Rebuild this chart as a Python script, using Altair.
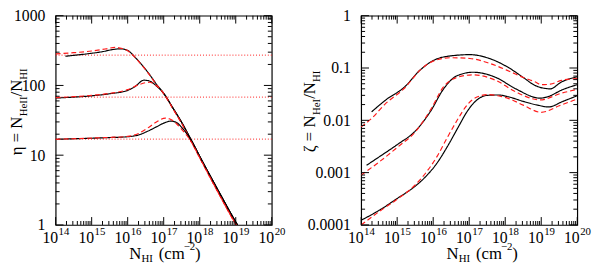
import altair as alt
import pandas as pd
import numpy as np

FONT = "Liberation Serif"
W, H = 220, 213
RED = "#ff1a1a"

# ---------------- left panel: eta = N_HeII / N_HI ----------------
L_top_black_x = [14.27, 14.5, 14.9, 15.3, 15.6, 15.8, 16.0, 16.2, 16.4, 16.6, 16.8, 17.0, 17.25, 17.5, 17.75, 18.0, 18.5, 19.0, 19.1]
L_top_black_y = [262, 270, 285, 305, 328, 335, 318, 255, 195, 145, 104, 77, 48, 29.5, 17, 9.6, 3.2, 1.1, 0.9]
L_top_red_x = [14.0, 14.5, 15.0, 15.4, 15.65, 15.85, 16.0, 16.2, 16.4, 16.6, 16.8, 17.0, 17.25, 17.5, 17.75, 18.0, 18.5, 19.0, 19.1]
L_top_red_y = [283, 295, 312, 335, 352, 338, 315, 254, 193, 143, 102, 76, 47, 28.5, 16.3, 9.2, 3.0, 1.03, 0.85]
L_mid_black_x = [14.0, 14.5, 15.0, 15.5, 16.0, 16.2, 16.45, 16.6, 16.8, 17.0, 17.25, 17.5, 17.75, 18.0, 18.5, 19.0, 19.1]
L_mid_black_y = [66, 68, 71, 76, 85, 96, 119, 116, 98, 77, 48, 29.5, 17, 9.6, 3.2, 1.1, 0.9]
L_mid_red_x = [14.0, 14.5, 15.0, 15.5, 16.0, 16.3, 16.6, 16.8, 17.0, 17.25, 17.5, 17.75, 18.0, 18.5, 19.0, 19.1]
L_mid_red_y = [67, 69, 72, 77, 87, 102, 111, 99, 77, 47, 28.5, 16.3, 9.2, 3.0, 1.03, 0.85]
L_bot_black_x = [14.0, 14.5, 15.0, 15.5, 16.0, 16.3, 16.55, 16.8, 17.0, 17.2, 17.35, 17.5, 17.65, 17.8, 18.0, 18.5, 19.0, 19.1]
L_bot_black_y = [16.9, 17.2, 17.5, 17.9, 18.4, 19.5, 22, 25.5, 28.8, 30.8, 29.5, 25, 20, 15.2, 9.6, 3.2, 1.1, 0.9]
L_bot_red_x = [14.0, 15.0, 15.5, 16.0, 16.3, 16.55, 16.8, 17.05, 17.2, 17.35, 17.5, 17.65, 17.8, 18.0, 18.5, 19.0, 19.1]
L_bot_red_y = [16.9, 17.6, 18.0, 18.6, 20.5, 24.4, 30, 34, 32.5, 28.5, 23.5, 19, 14.5, 9.2, 3.0, 1.03, 0.85]
ETA_LEVELS = [272, 68, 17]

# ---------------- right panel: zeta = N_HeI / N_HI ----------------
R_top_black_x = [14.29, 14.7, 15.2, 15.65, 16.02, 16.47, 17.02, 17.56, 18.11, 18.5, 18.84, 19.25, 19.56, 20.0]
R_top_black_y = [0.0145, 0.025, 0.043, 0.093, 0.141, 0.17, 0.18, 0.152, 0.1, 0.066, 0.046, 0.040, 0.054, 0.068]
R_top_red_x = [14.0, 14.3, 14.65, 15.2, 15.65, 16.02, 16.47, 17.02, 17.56, 18.11, 18.5, 18.84, 19.0, 19.25, 19.56, 20.0]
R_top_red_y = [0.0075, 0.011, 0.02, 0.041, 0.093, 0.137, 0.157, 0.152, 0.123, 0.087, 0.066, 0.054, 0.048, 0.049, 0.058, 0.063]
R_mid_black_x = [14.15, 14.5, 15.02, 15.5, 15.93, 16.29, 16.66, 17.11, 17.74, 18.29, 18.97, 19.2, 19.56, 20.0]
R_mid_black_y = [0.00138, 0.002, 0.0035, 0.0062, 0.015, 0.04, 0.071, 0.083, 0.066, 0.040, 0.0265, 0.0285, 0.0377, 0.048]
R_mid_red_x = [14.0, 14.5, 15.02, 15.5, 15.93, 16.29, 16.66, 17.11, 17.74, 18.29, 18.97, 19.56, 20.0]
R_mid_red_y = [0.0009, 0.0016, 0.0031, 0.006, 0.016, 0.044, 0.066, 0.074, 0.058, 0.035, 0.0245, 0.033, 0.039]
R_bot_black_x = [14.0, 14.5, 15.0, 15.5, 15.8, 16.1, 16.4, 16.7, 16.95, 17.2, 17.5, 17.8, 18.1, 18.5, 18.9, 19.2, 19.6, 20.0]
R_bot_black_y = [0.000123, 0.00019, 0.00032, 0.00055, 0.00085, 0.0015, 0.0032, 0.0075, 0.015, 0.024, 0.030, 0.0305, 0.028, 0.023, 0.0195, 0.018, 0.023, 0.0295]
R_bot_red_x = [14.0, 14.5, 15.0, 15.5, 15.8, 16.1, 16.4, 16.7, 16.95, 17.2, 17.5, 17.8, 18.1, 18.5, 19.0, 19.5, 20.0]
R_bot_red_y = [0.0001, 0.00018, 0.00031, 0.00058, 0.001, 0.002, 0.0048, 0.011, 0.02, 0.0275, 0.031, 0.0295, 0.026, 0.0195, 0.0142, 0.019, 0.0255]

# ---------------- axes ----------------
X_MAJOR = [14, 15, 16, 17, 18, 19, 20]
X_BASE = "10"
L_Y_MAJOR = [1, 10, 100, 1000]
L_Y_LABELS = ["1", "10", "100", "1000"]
R_Y_MAJOR = [0.0001, 0.001, 0.01, 0.1, 1]
R_Y_LABELS = ["0.0001", "0.001", "0.01", "0.1", "1"]


def y_label_expr(vals, labels):
    parts = [f"datum.value < {v * 3.0} ? '{t}'" for v, t in zip(vals, labels)]
    return " : ".join(parts) + " : ''"


def curves_df(curves):
    rows = []
    for name, model, xs, ys in curves:
        for x, y in zip(xs, ys):
            rows.append({"c": name, "model": model, "logN": x, "v": y})
    return pd.DataFrame(rows)


def text_layer(txt, x, y, size, angle=0):
    return alt.Chart(pd.DataFrame({"t": [txt]})).mark_text(
        font=FONT, fontSize=size, align="left", baseline="alphabetic",
        angle=angle, color="black"
    ).encode(x=alt.value(x), y=alt.value(y), text="t:N")


def panel(df, ydomain, ymajor, ylabels, hlines, ytitle, ytitle_x, ytitle_y0, xtitle_x0, anchor=False):
    xaxis = alt.Axis(values=X_MAJOR, labels=False, ticks=False, domain=False,
                     grid=False, title=None)
    yaxis = alt.Axis(values=ymajor, labelExpr=y_label_expr(ymajor, ylabels), ticks=False,
                     domain=False, grid=False, title=None, labelFont=FONT, labelFontSize=16,
                     labelPadding=11, labelColor="black", labelOverlap=False)
    xs = alt.Scale(domain=[14, 20], nice=False, zero=False)
    ys = alt.Scale(type="log", domain=ydomain, nice=False)

    def X():
        return alt.X("logN:Q", scale=xs, axis=xaxis)

    def Y():
        return alt.Y("v:Q", scale=ys, axis=yaxis)

    layers = []
    if anchor:
        # invisible layout anchor fixing the top-left extent of the figure
        layers.append(alt.Chart(pd.DataFrame({"a": [0]})).mark_rule(color="white", strokeWidth=1).encode(
            x=alt.value(-52), x2=alt.value(-51), y=alt.value(-12), y2=alt.value(-12)))
    if hlines:
        layers.append(alt.Chart(pd.DataFrame({"v": hlines})).mark_rule(
            color=RED, strokeDash=[1, 2], strokeWidth=1).encode(y=Y()))

    lines = alt.Chart(df).mark_line(clip=True, strokeWidth=1.2, interpolate="monotone").encode(
        x=X(), y=Y(), detail="c:N",
        color=alt.Color("model:N", scale=alt.Scale(domain=["solid", "dashed"], range=["black", RED]), legend=None),
        strokeDash=alt.StrokeDash("model:N", scale=alt.Scale(domain=["solid", "dashed"], range=[[1, 0], [5, 3]]), legend=None),
    )
    layers.append(lines)

    # inward ticks
    xmaj = pd.DataFrame({"logN": X_MAJOR})
    xmin = pd.DataFrame({"logN": [n + np.log10(k) for n in range(14, 20) for k in range(2, 10)]})
    lo = int(round(np.log10(ydomain[0])))
    hi = int(round(np.log10(ydomain[1])))
    ymaj = pd.DataFrame({"v": ymajor})
    ymin = pd.DataFrame({"v": [k * 10.0 ** n for n in range(lo, hi) for k in range(2, 10)]})
    tick = dict(color="black", strokeWidth=1)
    for d, ln in ((xmaj, 8), (xmin, 4)):
        layers.append(alt.Chart(d).mark_rule(**tick).encode(x=X(), y=alt.value(H), y2=alt.value(H - ln)))
        layers.append(alt.Chart(d).mark_rule(**tick).encode(x=X(), y=alt.value(0), y2=alt.value(ln)))
    for d, ln in ((ymaj, 8), (ymin, 4)):
        layers.append(alt.Chart(d).mark_rule(**tick).encode(y=Y(), x=alt.value(0), x2=alt.value(ln)))
        layers.append(alt.Chart(d).mark_rule(**tick).encode(y=Y(), x=alt.value(W), x2=alt.value(W - ln)))

    # x tick labels "10" with raised exponent
    xl = pd.DataFrame({"logN": X_MAJOR, "base": [X_BASE] * len(X_MAJOR), "exp": [str(e) for e in X_MAJOR]})
    layers.append(alt.Chart(xl).mark_text(font=FONT, fontSize=16, align="right", baseline="alphabetic",
                                          dx=2.5, color="black").encode(x=X(), y=alt.value(H + 18), text="base:N"))
    layers.append(alt.Chart(xl).mark_text(font=FONT, fontSize=11, align="left", baseline="alphabetic",
                                          dx=3, color="black").encode(x=X(), y=alt.value(H + 10), text="exp:N"))

    # y title pieces (rotated)
    yy = ytitle_y0
    for txt, size, wdt, is_sub in ytitle:
        layers.append(text_layer(txt, ytitle_x + (5 if is_sub else 0), yy, size, angle=270))
        yy -= wdt
    # x title pieces
    layers.append(text_layer("N", xtitle_x0, H + 35, 17))
    layers.append(text_layer("HI", xtitle_x0 + 12.3, H + 38, 11))
    layers.append(text_layer("(cm", xtitle_x0 + 12.3 + 11.6 + 6, H + 35, 17))
    layers.append(text_layer("−2", xtitle_x0 + 12.3 + 11.6 + 6 + 25.5, H + 26, 11))
    layers.append(text_layer(")", xtitle_x0 + 12.3 + 11.6 + 6 + 25.5 + 11.5, H + 35, 17))

    return alt.layer(*layers).properties(width=W, height=H)


left_df = curves_df([
    ("top_b", "solid", L_top_black_x, L_top_black_y),
    ("top_r", "dashed", L_top_red_x, L_top_red_y),
    ("mid_b", "solid", L_mid_black_x, L_mid_black_y),
    ("mid_r", "dashed", L_mid_red_x, L_mid_red_y),
    ("bot_b", "solid", L_bot_black_x, L_bot_black_y),
    ("bot_r", "dashed", L_bot_red_x, L_bot_red_y),
])
right_df = curves_df([
    ("top_b", "solid", R_top_black_x, R_top_black_y),
    ("top_r", "dashed", R_top_red_x, R_top_red_y),
    ("mid_b", "solid", R_mid_black_x, R_mid_black_y),
    ("mid_r", "dashed", R_mid_red_x, R_mid_red_y),
    ("bot_b", "solid", R_bot_black_x, R_bot_black_y),
    ("bot_r", "dashed", R_bot_red_x, R_bot_red_y),
])

left = panel(left_df, [1, 1000], L_Y_MAJOR, L_Y_LABELS, ETA_LEVELS,
             [("η = N", 17, 39.6, False), ("HeII", 11, 20.2, True), ("/N", 17, 17.0, False), ("HI", 11, 11.6, True)],
             -34, 142, 75, anchor=True)
right = panel(right_df, [0.0001, 1], R_Y_MAJOR, R_Y_LABELS, None,
              [("ζ = N", 17, 37.9, False), ("HeI", 11, 16.5, True), ("/N", 17, 17.0, False), ("HI", 11, 11.6, True)],
              -47, 139, 87)

chart = alt.hconcat(left, right, spacing=91, bounds="flush").properties(
    padding={"left": -5.5, "top": -8.5, "right": 0, "bottom": 0}
).configure_view(stroke="black", strokeWidth=1.2)

chart.save("out.html", embed_options={"renderer": "svg", "actions": False})
